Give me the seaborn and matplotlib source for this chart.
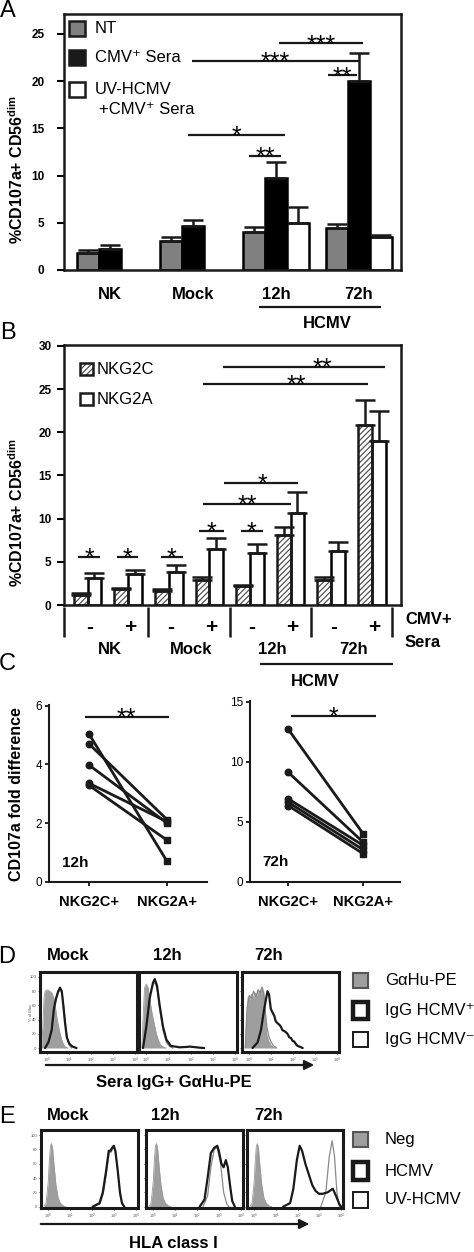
import numpy as np
import pandas as pd
import matplotlib
matplotlib.use("Agg")
import matplotlib.pyplot as plt
import matplotlib.transforms as mtransforms
from matplotlib.patches import Rectangle, FancyArrowPatch
from matplotlib.lines import Line2D
import seaborn as sns

# ---------------- data ----------------
groups_A = ["NK", "Mock", "12h", "72h"]
treat_A = ["NT", "CMV+ Sera", "UV-HCMV"]
A_NT = [1.75, 3.1, 4.05, 4.4]
A_NT_err = [0.42, 0.42, 0.5, 0.52]
A_CMV = [2.2, 4.7, 9.7, 20.0]
A_CMV_err = [0.42, 0.6, 1.7, 3.0]
A_UV = [np.nan, np.nan, 4.95, 3.45]
A_UV_err = [np.nan, np.nan, 1.7, 0.22]

conds_B = ["NK-", "NK+", "Mock-", "Mock+", "12h-", "12h+", "72h-", "72h+"]
sera_B = ["-", "+", "-", "+", "-", "+", "-", "+"]
groups_B = ["NK", "Mock", "12h", "72h"]
rec_B = ["NKG2C", "NKG2A"]
B_2C = [1.2, 1.8, 1.65, 2.95, 2.2, 8.05, 2.95, 20.8]
B_2C_err = [0.15, 0.2, 0.15, 0.25, 0.15, 0.95, 0.25, 2.9]
B_2A = [3.15, 3.55, 3.85, 6.5, 6.05, 10.6, 6.25, 19.0]
B_2A_err = [0.5, 0.5, 0.75, 1.25, 1.0, 2.5, 1.1, 3.5]

C_cats = ["NKG2C+", "NKG2A+"]
C12_2C = [5.04, 4.70, 3.98, 3.36, 3.29]
C12_2A = [0.70, 2.12, 2.00, 2.05, 1.42]
C72_2C = [12.7, 9.12, 6.91, 6.63, 6.35]
C72_2A = [4.0, 3.3, 3.04, 2.68, 2.35]

hist_titles = ["Mock", "12h", "72h"]
# D: flow histograms (x = log10 fluorescence, y = % of max)
D_mock_neg_x = [-0.26, -0.2, -0.15, -0.1, 0.0, 0.1, 0.2, 0.3, 0.38, 0.45, 0.55, 0.65, 0.75, 0.85, 0.95]
D_mock_neg_y = [0, 30, 70, 80, 82, 80, 78, 70, 55, 40, 25, 12, 4, 1, 0]
D_mock_pos_x = [-0.1, 0.05, 0.2, 0.3, 0.4, 0.5, 0.58, 0.66, 0.73, 0.81, 0.89, 1.0, 1.15, 1.33]
D_mock_pos_y = [0, 8, 25, 55, 70, 80, 85, 80, 60, 35, 15, 6, 2, 0]
D_mock_ctl_x = [-0.1, 0.05, 0.2, 0.3, 0.4, 0.5, 0.6, 0.68, 0.76, 0.84, 0.92, 1.0, 1.1]
D_mock_ctl_y = [0, 6, 22, 50, 68, 78, 82, 76, 55, 30, 12, 4, 0]
D_12_neg_x = [-0.2, -0.15, -0.08, 0.0, 0.08, 0.15, 0.25, 0.35, 0.45, 0.55, 0.65, 0.8, 0.9]
D_12_neg_y = [0, 40, 85, 90, 85, 70, 50, 35, 20, 10, 4, 1, 0]
D_12_pos_x = [-0.15, 0.0, 0.15, 0.3, 0.38, 0.48, 0.6, 0.75, 0.9, 1.1, 1.5, 1.8, 1.95, 2.1, 2.4, 2.6]
D_12_pos_y = [0, 30, 70, 92, 97, 88, 60, 30, 12, 3, 1, 1.5, 2, 1.5, 0.5, 0]
D_12_ctl_x = [-0.15, 0.0, 0.15, 0.3, 0.4, 0.5, 0.6, 0.75, 0.9, 1.05, 1.2]
D_12_ctl_y = [0, 35, 75, 90, 92, 80, 55, 25, 8, 2, 0]
D_72_neg_x = [-0.18, -0.12, -0.05, 0.03, 0.1, 0.18, 0.25, 0.33, 0.4, 0.48, 0.55, 0.62, 0.68, 0.73, 0.8, 0.88, 0.98, 1.1, 1.2]
D_72_neg_y = [0, 45, 72, 68, 76, 70, 78, 74, 80, 78, 84, 80, 70, 40, 18, 10, 4, 1, 0]
D_72_pos_x = [0.15, 0.38, 0.53, 0.68, 0.78, 0.83, 0.9, 0.98, 1.06, 1.14, 1.2, 1.28, 1.36, 1.44, 1.51,
              1.59, 1.67, 1.74, 1.82, 1.9, 1.97, 2.05, 2.13, 2.2, 2.28, 2.43]
D_72_pos_y = [0, 8, 25, 55, 72, 80, 75, 55, 50, 45, 38, 35, 33, 30, 25, 24, 22, 20, 15, 14, 10, 9, 5, 3, 2, 0]
D_72_ctl_x = [-0.18, -0.1, 0.0, 0.1, 0.2, 0.3, 0.4, 0.5, 0.58, 0.66, 0.72, 0.8, 0.9, 1.0, 1.1, 1.25]
D_72_ctl_y = [0, 55, 74, 70, 80, 72, 82, 78, 86, 78, 55, 30, 15, 8, 3, 0]
# E: HLA class I histograms
E_neg_x = [-0.2, -0.1, 0.0, 0.05, 0.1, 0.15, 0.2, 0.27, 0.35, 0.45, 0.55, 0.7, 0.8]
E_neg_y = [0, 5, 35, 65, 85, 88, 80, 55, 30, 12, 5, 1, 0]
E_mock_hcmv_x = [2.02, 2.33, 2.48, 2.63, 2.75, 2.83, 2.9, 2.98, 3.05, 3.16, 3.26, 3.35, 3.46]
E_mock_hcmv_y = [0, 5, 20, 50, 78, 78, 82, 85, 78, 50, 20, 5, 0]
E_mock_uv_x = [2.05, 2.35, 2.5, 2.65, 2.77, 2.85, 2.92, 3.0, 3.07, 3.17, 3.27, 3.36, 3.45]
E_mock_uv_y = [0, 4, 18, 48, 75, 76, 80, 82, 75, 45, 17, 4, 0]
E_12_hcmv_x = [2.11, 2.33, 2.47, 2.62, 2.77, 2.91, 2.98, 3.1, 3.2, 3.3, 3.39, 3.49, 3.59, 3.71]
E_12_hcmv_y = [0, 10, 40, 75, 82, 85, 78, 60, 55, 65, 55, 30, 8, 0]
E_12_uv_x = [2.26, 2.47, 2.62, 2.77, 2.91, 3.06, 3.2, 3.35, 3.45]
E_12_uv_y = [0, 15, 55, 80, 82, 60, 20, 3, 0]
E_72_hcmv_x = [1.33, 1.65, 1.8, 1.96, 2.09, 2.2, 2.35, 2.51, 2.67, 2.82, 2.98, 3.14, 3.37, 3.61, 3.76, 3.92, 4.0]
E_72_hcmv_y = [0, 5, 25, 65, 85, 78, 60, 45, 30, 22, 18, 18, 20, 25, 15, 3, 0]
E_72_uv_x = [3.06, 3.29, 3.45, 3.58, 3.69, 3.8, 3.92]
E_72_uv_y = [0, 20, 70, 92, 70, 20, 0]

# ---------------- style ----------------
sns.set_theme(style="ticks", rc={"axes.edgecolor": "black", "text.color": "black",
                                 "xtick.color": "black", "ytick.color": "black",
                                 "axes.labelcolor": "black"})
plt.rcParams["font.family"] = ["Liberation Sans", "DejaVu Sans"]
plt.rcParams["mathtext.fontset"] = "custom"
plt.rcParams["mathtext.rm"] = "Liberation Sans"
plt.rcParams["mathtext.bf"] = "Liberation Sans:bold"
plt.rcParams["hatch.linewidth"] = 0.9

W, H = 474, 1252
fig = plt.figure(figsize=(W / 100, H / 100), dpi=100)


def add_ax(x0, y0, x1, y1):
    return fig.add_axes([x0 / W, 1 - y1 / H, (x1 - x0) / W, (y1 - y0) / H])


def ftext(x, y, s, **kw):
    kw.setdefault("ha", "center")
    kw.setdefault("va", "center")
    fig.text(x / W, 1 - y / H, s, **kw)


def fline(x0, y0, x1, y1, lw=1.6, color="k"):
    fig.add_artist(Line2D([x0 / W, x1 / W], [1 - y0 / H, 1 - y1 / H], transform=fig.transFigure,
                          lw=lw, color=color, solid_capstyle="butt"))


def frect(x0, y0, x1, y1, **kw):
    fig.add_artist(Rectangle((x0 / W, 1 - y1 / H), (x1 - x0) / W, (y1 - y0) / H,
                             transform=fig.transFigure, **kw))


def sig(ax, x0, x1, y, s, xt=None, fs=18):
    ax.plot([x0, x1], [y, y], color="k", lw=1.6, solid_capstyle="butt", clip_on=False)
    xt = (x0 + x1) / 2 if xt is None else xt
    ax.annotate(s, xy=(xt, y), xytext=(0, -0.36 * fs), textcoords="offset points",
                ha="center", va="baseline", fontsize=fs, annotation_clip=False)


def add_err(ax, df, xcol, order, huecol, hue_order, capsize=7):
    for cont, h in zip(ax.containers, hue_order):
        sub = df[df[huecol] == h]
        for p in cont:
            xc = p.get_x() + p.get_width() / 2
            cat = order[int(round(xc))]
            e = sub.loc[sub[xcol] == cat, "err"].values[0]
            ax.errorbar(xc, p.get_height(), yerr=[[0], [e]], fmt="none", ecolor="k",
                        elinewidth=1.8, capsize=capsize, capthick=1.8, zorder=3)


def box_spines(ax, lw=1.8):
    for s in ax.spines.values():
        s.set_visible(True)
        s.set_linewidth(lw)
        s.set_color("k")


# ---------------- Panel A ----------------
axA = add_ax(64, 14, 401, 270)
recA = []
for vals, errs, t in [(A_NT, A_NT_err, treat_A[0]), (A_CMV, A_CMV_err, treat_A[1]),
                      (A_UV, A_UV_err, treat_A[2])]:
    for g, v, e in zip(groups_A, vals, errs):
        if not np.isnan(v):
            recA.append({"group": g, "treat": t, "val": v, "err": e})
dfA = pd.DataFrame(recA)
sns.barplot(data=dfA, x="group", y="val", hue="treat", order=groups_A, hue_order=treat_A,
            palette=["#808080", "black", "white"], width=0.8, errorbar=None, edgecolor="black",
            linewidth=1.8, saturation=1, legend=False, ax=axA)
add_err(axA, dfA, "group", groups_A, "treat", treat_A)
axA.set_xlim(-0.554, 3.506)
axA.set_ylim(0, 27.1)
axA.set_yticks([0, 5, 10, 15, 20, 25])
axA.set_yticklabels(["0", "5", "10", "15", "20", "25"], fontweight="bold", fontsize=8.5)
axA.set_xticks(range(4))
axA.set_xticklabels(groups_A, fontweight="bold", fontsize=12)
axA.tick_params(axis="x", length=0, pad=12)
axA.tick_params(axis="y", direction="out", length=5, width=1.5, pad=9)
axA.set_xlabel("")
axA.set_ylabel("")
box_spines(axA)
sig(axA, 2.036, 3.05, 23.98, "***")
sig(axA, 0.988, 3.0, 22.14, "***")
sig(axA, 2.627, 2.976, 20.6, "**")
sig(axA, 0.94, 2.108, 14.28, "*")
sig(axA, 1.675, 2.06, 12.06, "**")
ftext(17, 170, "%CD107a+ CD56$^{\\mathregular{dim}}$", rotation=90, fontweight="bold", fontsize=11.5)
frect(69, 21, 85, 36, fc="#808080", ec="k", lw=1.8)
frect(69, 50, 85, 65, fc="k", ec="k", lw=1.8)
frect(69, 82, 85, 97, fc="w", ec="k", lw=1.8)
ftext(95, 28.5, "NT", ha="left", fontsize=12)
ftext(95, 57.5, "CMV\u207a Sera", ha="left", fontsize=12)
ftext(95, 89.5, "UV-HCMV", ha="left", fontsize=12)
ftext(99, 110, "+CMV\u207a Sera", ha="left", fontsize=12)
fline(259, 307, 381, 307)
ftext(327, 323, "HCMV", fontweight="bold", fontsize=12)
ftext(8, 11, "A", fontsize=17)

# ---------------- Panel B ----------------
axB = add_ax(64, 345, 401, 605)
recB = []
for c, v, e in zip(conds_B, B_2C, B_2C_err):
    recB.append({"cond": c, "rec": rec_B[0], "val": v, "err": e})
for c, v, e in zip(conds_B, B_2A, B_2A_err):
    recB.append({"cond": c, "rec": rec_B[1], "val": v, "err": e})
dfB = pd.DataFrame(recB)
sns.barplot(data=dfB, x="cond", y="val", hue="rec", order=conds_B, hue_order=rec_B,
            palette=["white", "white"], width=0.68, errorbar=None, edgecolor="black",
            linewidth=1.8, saturation=1, legend=False, ax=axB)
for p in list(axB.containers[0]):
    p.set_hatch("//////")
    p.set_edgecolor("#555555")
    p.set_linewidth(0)
    axB.add_patch(Rectangle(p.get_xy(), p.get_width(), p.get_height(), fill=False, ec="k",
                            lw=1.8, zorder=p.get_zorder() + 0.1))
add_err(axB, dfB, "cond", conds_B, "rec", rec_B, capsize=7.5)
axB.set_xlim(-0.579, 7.72)
axB.set_ylim(0, 30.1)
axB.set_yticks([0, 5, 10, 15, 20, 25, 30])
axB.set_yticklabels(["0", "5", "10", "15", "20", "25", "30"], fontweight="bold", fontsize=8.5)
axB.set_xticks(range(8))
axB.set_xticklabels([""] * 8)
axB.tick_params(axis="x", length=0)
axB.tick_params(axis="y", direction="out", length=5, width=1.5, pad=4)
axB.set_xlabel("")
axB.set_ylabel("")
box_spines(axB)
transB = mtransforms.blended_transform_factory(axB.transData, axB.transAxes)
for i, s in enumerate(sera_B):
    axB.text(i + 0.05, -0.088, s, transform=transB, ha="center", va="center",
             fontweight="bold", fontsize=15)
for xd in [-0.579, 1.5, 3.5, 5.5, 7.5]:
    axB.plot([xd, xd], [-0.006, -0.123], transform=transB, color="k", lw=1.8, clip_on=False,
             solid_capstyle="butt")
for i, g in enumerate(groups_B):
    axB.text(2 * i + 0.55, -0.173, g, transform=transB, ha="center", va="center",
             fontweight="bold", fontsize=12)
ftext(405, 620, "CMV+", ha="left", fontweight="bold", fontsize=12)
ftext(405, 642, "Sera", ha="left", fontweight="bold", fontsize=12)
sig(axB, -0.23, 0.31, 5.52, "*")
sig(axB, 0.73, 1.24, 5.52, "*")
sig(axB, 1.81, 2.35, 5.52, "*")
sig(axB, 2.75, 3.36, 8.61, "*")
sig(axB, 3.78, 4.32, 8.61, "*")
sig(axB, 2.84, 5.01, 11.7, "**")
sig(axB, 3.36, 5.18, 14.17, "*", xt=4.3)
sig(axB, 2.84, 6.91, 25.56, "**", xt=5.15)
sig(axB, 3.34, 7.33, 27.6, "**", xt=5.78)
ftext(17, 513, "%CD107a+ CD56$^{\\mathregular{dim}}$", rotation=90, fontweight="bold", fontsize=11.5)
frect(80, 363, 93, 375, fc="w", ec="#555555", hatch="//////", lw=0)
frect(80, 363, 93, 375, fill=False, ec="k", lw=1.8)
frect(80, 393, 93, 405, fc="w", ec="k", lw=1.8)
ftext(97, 369, "NKG2C", ha="left", fontsize=12)
ftext(97, 399, "NKG2A", ha="left", fontsize=12)
fline(260, 664, 393, 664)
ftext(315, 681, "HCMV", fontweight="bold", fontsize=12)
ftext(8, 333, "B", fontsize=17)

# ---------------- Panel C ----------------
def paired(ax, left, right, ylim, yticks, xlim, tag):
    df = pd.DataFrame({"donor": list(range(len(left))) * 2,
                       "pos": [0] * len(left) + [1] * len(right),
                       "val": list(left) + list(right)})
    sns.lineplot(data=df, x="pos", y="val", units="donor", estimator=None, color="k", lw=2, ax=ax)
    ax.scatter([0] * len(left), left, marker="o", s=22, color="k", zorder=4)
    ax.scatter([1] * len(right), right, marker="s", s=20, color="k", zorder=4)
    ax.set_xlim(*xlim)
    ax.set_ylim(*ylim)
    ax.set_yticks(yticks)
    ax.set_yticklabels([str(t) for t in yticks], fontsize=8.5)
    ax.set_xticks([0, 1])
    ax.set_xticklabels(C_cats, fontweight="bold", fontsize=10.5)
    ax.tick_params(axis="both", direction="out", length=3, width=1.2, pad=2)
    ax.tick_params(axis="x", pad=6)
    ax.set_xlabel("")
    ax.set_ylabel("")
    for s in ["top", "right"]:
        ax.spines[s].set_visible(False)
    for s in ["left", "bottom"]:
        ax.spines[s].set_linewidth(1.5)
        ax.spines[s].set_color("k")
    ax.text(0.08, 0.11, tag, transform=ax.transAxes, ha="left", va="center",
            fontweight="bold", fontsize=11)


axC1 = add_ax(49, 705, 207, 882)
paired(axC1, C12_2C, C12_2A, (0, 6.02), [0, 2, 4, 6], (-0.51, 1.51), "12h")
sig(axC1, -0.055, 1.02, 5.6, "**")
axC2 = add_ax(250, 701, 400, 882)
paired(axC2, C72_2C, C72_2A, (0, 15.05), [0, 5, 10, 15], (-0.51, 1.49), "72h")
sig(axC2, 0.03, 1.17, 13.8, "*")
ftext(17, 794, "CD107a fold difference", rotation=90, fontweight="bold", fontsize=11.5)
ftext(7, 664, "C", fontsize=17)

# ---------------- Panels D / E (histograms) ----------------
def hist_ax(x0, y0, x1, y1, ylim, show_y):
    ax = add_ax(x0, y0, x1, y1)
    ax.set_xlim(-0.33, 4.08)
    ax.set_ylim(*ylim)
    box_spines(ax, lw=2.2)
    ax.set_xticks(range(5))
    ax.set_xticklabels(["$10^{%d}$" % k for k in range(5)], fontsize=3, color="#555555")
    ax.set_yticks([0, 20, 40, 60, 80, 100])
    if show_y:
        ax.set_yticklabels(["0", "20", "40", "60", "80", "100"], fontsize=3, color="#555555")
    else:
        ax.set_yticklabels([])
    ax.tick_params(axis="both", direction="out", length=1.5, width=0.5, pad=1)
    return ax


def draw_hist(ax, fill, thick, thin):
    sns.lineplot(x=fill[0], y=fill[1], ax=ax, color="#9a9a9a", lw=0.6, sort=False, estimator=None)
    ax.fill_between(fill[0], fill[1], 0, color="#9e9e9e", lw=0, zorder=1)
    sns.lineplot(x=thin[0], y=thin[1], ax=ax, color="#8a8a8a", lw=0.9, sort=False, estimator=None, zorder=2)
    sns.lineplot(x=thick[0], y=thick[1], ax=ax, color="k", lw=1.6, sort=False, estimator=None, zorder=3)
    ax.set_xlabel("")
    ax.set_ylabel("")


D_boxes = [(40, 137), (139, 237), (242, 339)]
D_data = [((D_mock_neg_x, D_mock_neg_y), (D_mock_pos_x, D_mock_pos_y), (D_mock_ctl_x, D_mock_ctl_y)),
          ((D_12_neg_x, D_12_neg_y), (D_12_pos_x, D_12_pos_y), (D_12_ctl_x, D_12_ctl_y)),
          ((D_72_neg_x, D_72_neg_y), (D_72_pos_x, D_72_pos_y), (D_72_ctl_x, D_72_ctl_y))]
D_title_x = [68, 167, 269]
for i, ((bx0, bx1), (f, t, n)) in enumerate(zip(D_boxes, D_data)):
    ax = hist_ax(bx0, 972, bx1, 1052, (-5.6, 107), i == 0)
    draw_hist(ax, f, t, n)
    ftext(D_title_x[i], 956, hist_titles[i], fontweight="bold", fontsize=12)
ftext(31, 1012, "% of Max", rotation=90, fontsize=3, color="#555555")

E_boxes = [(41, 138), (146, 243), (247, 343)]
E_data = [((E_neg_x, E_neg_y), (E_mock_hcmv_x, E_mock_hcmv_y), (E_mock_uv_x, E_mock_uv_y)),
          ((E_neg_x, E_neg_y), (E_12_hcmv_x, E_12_hcmv_y), (E_12_uv_x, E_12_uv_y)),
          ((E_neg_x, E_neg_y), (E_72_hcmv_x, E_72_hcmv_y), (E_72_uv_x, E_72_uv_y))]
E_title_x = [68, 165, 269]
for i, ((bx0, bx1), (f, t, n)) in enumerate(zip(E_boxes, E_data)):
    ax = hist_ax(bx0, 1130, bx1, 1208, (-1.8, 107), i == 0)
    draw_hist(ax, f, t, n)
    ftext(E_title_x[i], 1116, hist_titles[i], fontweight="bold", fontsize=12)

# legends D / E
for ys, labels in [([(973, 988), (1002, 1019), (1032, 1047)], ["G\u03b1Hu-PE", "IgG HCMV\u207a", "IgG HCMV\u207b"]),
                   ([(1132, 1147), (1162, 1180), (1192, 1208)], ["Neg", "HCMV", "UV-HCMV"])]:
    frect(353, ys[0][0], 368, ys[0][1], fc="#9e9e9e", ec="#555555", lw=1.5)
    frect(353, ys[1][0], 368, ys[1][1], fc="w", ec="k", lw=3.2)
    frect(353, ys[2][0], 368, ys[2][1], fc="w", ec="k", lw=1.4)
    for (a, b), lab in zip(ys, labels):
        ftext(385, (a + b) / 2, lab, ha="left", fontsize=12)

for x0, x1, y in [(43, 317, 1065), (38, 312, 1224)]:
    fig.add_artist(FancyArrowPatch((x0 / W, 1 - y / H), (x1 / W, 1 - y / H), transform=fig.transFigure,
                                   arrowstyle="-|>", mutation_scale=14, lw=1.6, color="k"))
ftext(174, 1083, "Sera IgG+ G\u03b1Hu-PE", fontweight="bold", fontsize=12)
ftext(173, 1244, "HLA class I", fontweight="bold", fontsize=12)
ftext(7, 957, "D", fontsize=17)
ftext(7, 1117, "E", fontsize=17)

fig.savefig("out.png", dpi=100)
